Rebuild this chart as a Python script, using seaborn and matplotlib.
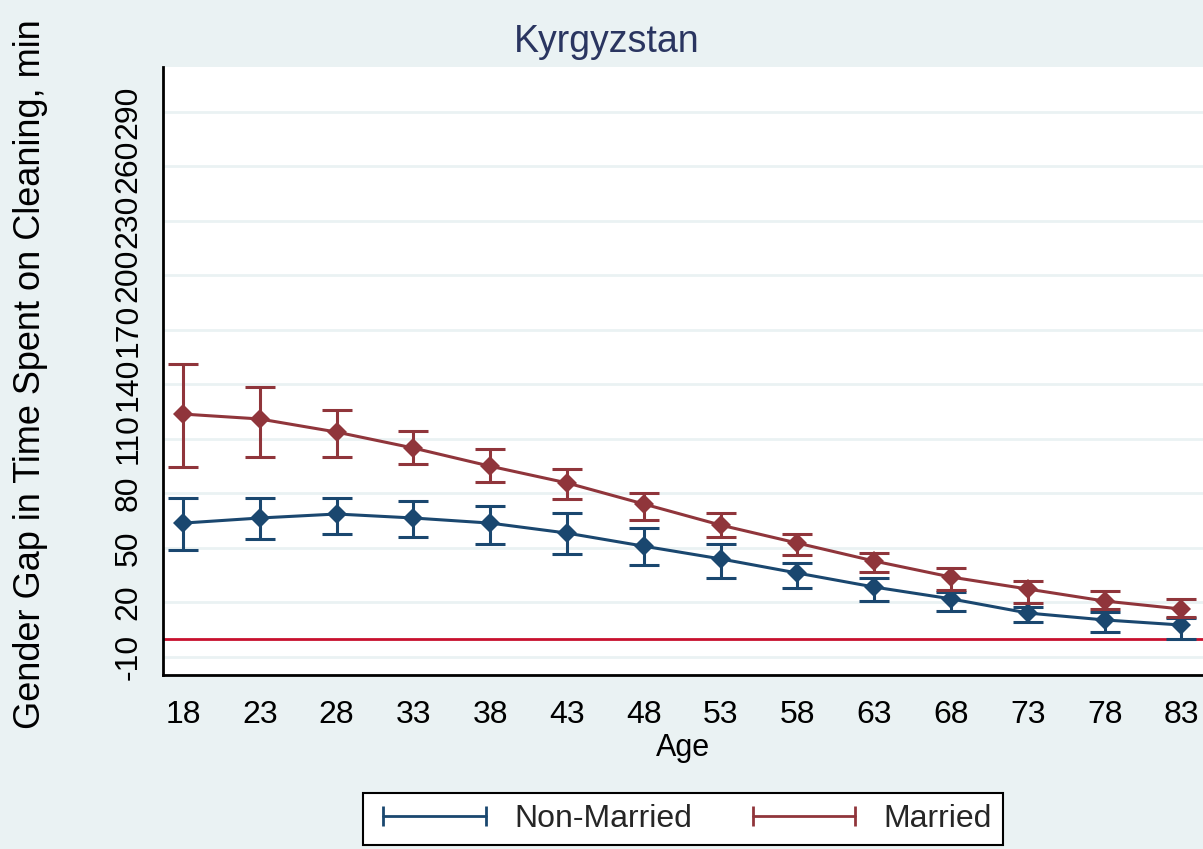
import matplotlib
matplotlib.use("Agg")

import matplotlib.pyplot as plt
from matplotlib.lines import Line2D
import seaborn as sns
import pandas as pd

ages = [18, 23, 28, 33, 38, 43, 48, 53, 58, 63, 68, 73, 78, 83]

nonmarried = [63.7, 66.5, 68.7, 66.5, 63.7, 58.2, 51.0, 44.0, 36.2, 28.5, 22.0, 14.2, 10.4, 7.6]
nonmarried_lo = [48.9, 55.0, 57.7, 56.0, 52.2, 46.7, 40.6, 33.5, 28.0, 20.8, 15.3, 9.3, 3.8, 0.0]
nonmarried_hi = [77.5, 77.5, 77.5, 75.9, 73.0, 69.3, 61.0, 52.2, 41.7, 33.5, 25.8, 17.5, 14.8, 11.4]

married = [123.7, 121.0, 113.8, 105.0, 95.0, 85.8, 74.2, 62.6, 52.7, 42.8, 34.0, 27.4, 20.8, 16.4]
married_lo = [94.6, 100.0, 100.0, 96.0, 86.3, 77.0, 65.4, 56.0, 46.0, 36.8, 26.9, 19.7, 16.4, 12.0]
married_hi = [151.0, 138.6, 126.0, 114.4, 104.5, 93.5, 80.3, 69.3, 57.7, 47.2, 39.0, 31.8, 26.3, 22.0]

yticks = [-10, 20, 50, 80, 110, 140, 170, 200, 230, 260, 290]

title = "Kyrgyzstan"
ylabel = "Gender Gap in Time Spent on Cleaning, min"
xlabel = "Age"

navy = "#1A476F"
maroon = "#90353B"
bg = "#EAF2F3"

sns.set_theme(style="white")
plt.rcParams["font.family"] = ["Liberation Sans", "DejaVu Sans"]

df = pd.DataFrame({
    "age": ages * 2,
    "gap": nonmarried + married,
    "status": ["Non-Married"] * len(ages) + ["Married"] * len(ages),
})

fig = plt.figure(figsize=(12.03, 8.49), dpi=100, facecolor=bg)
ax = fig.add_axes([163 / 1203, 1 - 675 / 849, 1 - 163 / 1203, (675 - 67) / 849])
ax.set_facecolor("white")

# grid first so it sits under everything
for t in yticks:
    ax.axhline(t, color=bg, lw=2, zorder=0)

ax.axhline(0, color="#C8102E", lw=2, zorder=1)

sns.lineplot(data=df, x="age", y="gap", hue="status", palette={"Non-Married": navy, "Married": maroon},
             marker="D", markersize=10, markeredgewidth=0, lw=2.2, legend=False, ax=ax, zorder=3)

for vals, lo, hi, c in [(nonmarried, nonmarried_lo, nonmarried_hi, navy),
                        (married, married_lo, married_hi, maroon)]:
    err = [[v - l for v, l in zip(vals, lo)], [h - v for v, h in zip(vals, hi)]]
    ax.errorbar(ages, vals, yerr=err, fmt="none", ecolor=c, elinewidth=2.2,
                capsize=11, capthick=2.2, zorder=3)

ax.set_xlim(16.7, 84.4)
ax.set_ylim(-19.9, 314.7)
ax.set_xticks(ages)
ax.set_yticks(yticks)
ax.set_yticklabels([str(t) for t in yticks], rotation=90, va="center")
ax.tick_params(axis="both", labelsize=23, colors="black", length=9, width=2, direction="out")
ax.tick_params(axis="x", pad=9)
ax.tick_params(axis="y", pad=5)

for s in ["top", "right"]:
    ax.spines[s].set_visible(False)
for s in ["left", "bottom"]:
    ax.spines[s].set_color("black")
    ax.spines[s].set_linewidth(2)

ax.set_xlabel(xlabel, fontsize=22, color="black", labelpad=2)
ax.set_ylabel(ylabel, fontsize=26, color="black")
ax.yaxis.set_label_coords(-0.111, 0.495)
fig.text(607 / 1203, 1 - 42 / 849, title, fontsize=27, color="#2A3560", ha="center", va="center")

handles = [Line2D([0], [0], color=navy, lw=2, marker="|", markersize=15, markeredgewidth=2),
           Line2D([0], [0], color=maroon, lw=2, marker="|", markersize=15, markeredgewidth=2)]
leg = fig.legend(handles, ["Non-Married", "Married"], loc="upper center",
                 bbox_to_anchor=(683 / 1203, 1 - 793 / 849), ncol=2, fontsize=23,
                 numpoints=2, handlelength=3.8, handletextpad=0.6, columnspacing=1.6,
                 frameon=True, fancybox=False, borderpad=0.35, borderaxespad=0)
leg.get_frame().set_edgecolor("black")
leg.get_frame().set_linewidth(1.5)
leg.get_frame().set_facecolor("white")
leg.get_frame().set_alpha(1)

plt.savefig("out.png", dpi=100, facecolor=bg)
plt.close()
